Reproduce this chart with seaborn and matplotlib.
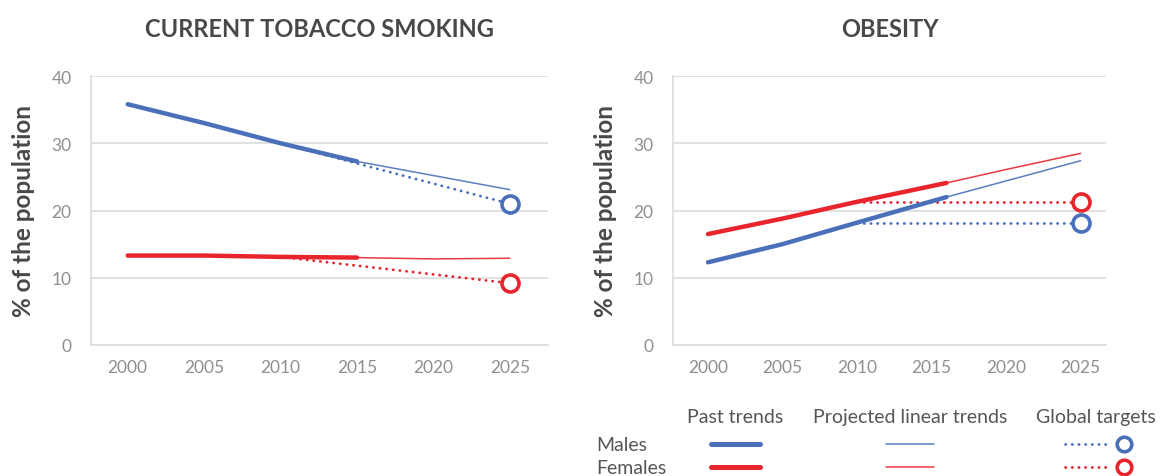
import matplotlib
matplotlib.use("Agg")
import matplotlib.pyplot as plt
import seaborn as sns
import numpy as np
from matplotlib.lines import Line2D

sns.set_theme(style="white")
plt.rcParams['font.family'] = ['Lato', 'DejaVu Sans']

BLUE = "#4a70ba"
RED = "#e8242c"
DARK = "#484848"
TICK = "#8f8f8f"
GRID = "#dcdcdc"

# ---- data ----
tob_past_years = [2000, 2005, 2010, 2015]
tob_m_past = [35.8, 33.0, 30.0, 27.3]
tob_f_past = [13.3, 13.3, 13.1, 13.0]
tob_proj_years = [2015, 2020, 2025]
tob_m_proj = [27.3, 25.2, 23.1]
tob_f_proj = [13.0, 12.8, 12.9]
tob_target_years = [2010, 2025]
tob_m_target = [30.0, 21.0]
tob_f_target = [13.1, 9.2]

ob_past_years = [2000, 2005, 2010, 2016]
ob_m_past = [12.3, 15.0, 18.2, 22.0]
ob_f_past = [16.5, 18.8, 21.3, 24.1]
ob_proj_years = [2016, 2020, 2025]
ob_m_proj = [22.0, 24.4, 27.4]
ob_f_proj = [24.1, 26.1, 28.5]
ob_target_years = [2010, 2025]
ob_m_target = [18.1, 18.1]
ob_f_target = [21.3, 21.3]

titles = ["CURRENT TOBACCO SMOKING", "OBESITY"]
xticks = [2000, 2005, 2010, 2015, 2020, 2025]
yticks = [0, 10, 20, 30, 40]

DOT = (0, (0.1, 2.3))

fig = plt.figure(figsize=(11.61, 4.77), dpi=100)
ax1 = fig.add_axes([91/1161, 1-346/477, 457/1161, 269/477])
ax2 = fig.add_axes([673/1161, 1-346/477, 433/1161, 269/477])

panels = [
    (ax1, tob_past_years, tob_m_past, tob_f_past, tob_proj_years, tob_m_proj, tob_f_proj,
     tob_target_years, tob_m_target, tob_f_target, (1997.6, 2027.5)),
    (ax2, ob_past_years, ob_m_past, ob_f_past, ob_proj_years, ob_m_proj, ob_f_proj,
     ob_target_years, ob_m_target, ob_f_target, (1997.65, 2026.7)),
]

for i, (ax, py, pm, pf, jy, jm, jf, ty, tm, tf, xl) in enumerate(panels):
    for col, tvals in ((BLUE, tm), (RED, tf)):
        sns.lineplot(x=ty, y=tvals, ax=ax, color=col, lw=2.0, linestyle=DOT,
                     dash_capstyle='round')
        sns.scatterplot(x=[ty[-1]], y=[tvals[-1]], ax=ax, s=150, facecolor='white',
                        edgecolor=col, linewidth=2.6, zorder=5)
    for col, jv in ((BLUE, jm), (RED, jf)):
        sns.lineplot(x=jy, y=jv, ax=ax, color=col, lw=1.1, alpha=0.9)
    for col, pv in ((BLUE, pm), (RED, pf)):
        sns.lineplot(x=py, y=pv, ax=ax, color=col, lw=3.2, solid_capstyle='round')

    ax.set_xlim(*xl)
    ax.set_ylim(0, 40)
    ax.set_xticks(xticks)
    ax.set_yticks(yticks)
    ax.tick_params(axis='both', colors=TICK, labelsize=12.5, length=0)
    ax.tick_params(axis='x', pad=10)
    ax.tick_params(axis='y', pad=14)
    ax.yaxis.grid(True, color=GRID, lw=1.2)
    ax.set_axisbelow(True)
    for s in ['top', 'right']:
        ax.spines[s].set_visible(False)
    ax.spines['left'].set_color(GRID)
    ax.spines['bottom'].set_color(GRID)
    ax.spines['left'].set_linewidth(1.2)
    ax.spines['bottom'].set_linewidth(1.2)
    ax.set_ylabel("% of the population", color=DARK, fontsize=17.5, fontweight='bold', labelpad=12)
    ax.set_xlabel("")
    ax.set_title(titles[i], color=DARK, fontsize=17, fontweight='bold', pad=29)

# ---- legend table ----
lax = fig.add_axes([0, 0, 1, 1], facecolor='none')
lax.set_xlim(0, 1161)
lax.set_ylim(477, 0)
lax.axis('off')
txtkw = dict(color="#555555", fontsize=14, va='center')
lax.text(735, 418, "Past trends", ha='center', **txtkw)
lax.text(910, 418, "Projected linear trends", ha='center', **txtkw)
lax.text(1096, 418, "Global targets", ha='center', **txtkw)
lax.text(596, 446, "Males", ha='left', **txtkw)
lax.text(596, 469, "Females", ha='left', **txtkw)
for yy, col in ((445, BLUE), (468, RED)):
    lax.add_line(Line2D([711, 760], [yy, yy], color=col, lw=3.6, solid_capstyle='round'))
    lax.add_line(Line2D([886, 934], [yy, yy], color=col, lw=1.1, alpha=0.9))
    lax.add_line(Line2D([1065, 1111], [yy, yy], color=col, lw=2.0, linestyle=DOT,
                        dash_capstyle='round'))
    lax.add_line(Line2D([1124], [yy], color=col, marker='o', markersize=10.5,
                        markerfacecolor='white', markeredgewidth=2.6, linestyle='none'))

fig.savefig("out.png", dpi=100)
